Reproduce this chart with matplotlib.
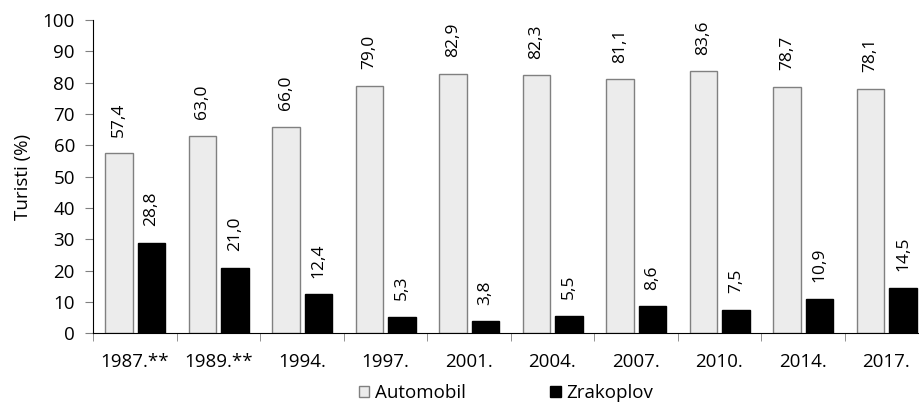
import matplotlib
matplotlib.use("Agg")
import matplotlib.pyplot as plt
import numpy as np

categories = ["1987.**", "1989.**", "1994.", "1997.", "2001.", "2004.", "2007.", "2010.", "2014.", "2017."]
automobil = [57.4, 63.0, 66.0, 79.0, 82.9, 82.3, 81.1, 83.6, 78.7, 78.1]
zrakoplov = [28.8, 21.0, 12.4, 5.3, 3.8, 5.5, 8.6, 7.5, 10.9, 14.5]
series_names = ["Automobil", "Zrakoplov"]
ylabel = "Turisti (%)"

plt.rcParams['font.family'] = ['Open Sans', 'DejaVu Sans']
plt.rcParams['font.size'] = 13.5

fig = plt.figure(figsize=(9.2, 4.05), dpi=100)
ax = fig.add_axes([93/920, 71.7/405, 835/920, 313.3/405])

x = np.arange(len(categories))
w = 0.33
b1 = ax.bar(x - 0.19, automobil, w, color="#ececec", edgecolor="#808080", linewidth=1.0, label=series_names[0])
b2 = ax.bar(x + 0.20, zrakoplov, w, color="black", edgecolor="black", linewidth=1.0, label=series_names[1])

def fmt(v):
    return f"{v:.1f}".replace(".", ",")

for bars, vals in ((b1, automobil), (b2, zrakoplov)):
    for r, v in zip(bars, vals):
        ax.annotate(fmt(v), (r.get_x() + r.get_width() / 2, v), xytext=(0, 12),
                    textcoords="offset points", rotation=90, ha="center", va="bottom",
                    fontsize=12.5)

ax.set_xlim(-0.5, len(categories) - 0.5)
ax.set_ylim(0, 100)
ax.set_yticks(range(0, 101, 10))
ax.set_xticks(x)
ax.set_xticklabels(categories, fontsize=13.5)
ax.set_xticks(np.arange(-0.5, len(categories), 1), minor=True)
ax.tick_params(axis="x", which="major", length=0, pad=14)
ax.tick_params(axis="x", which="minor", length=6, color="#808080", direction="out")
ax.tick_params(axis="y", length=6, color="#808080", direction="out", pad=7, labelsize=13.5)
ax.spines["top"].set_visible(False)
ax.spines["right"].set_visible(False)
ax.spines["left"].set_color("black")
ax.spines["bottom"].set_color("black")
ax.set_ylabel(ylabel, labelpad=8, fontsize=13.5)

fig.legend(handles=[b1, b2], labels=series_names, loc="center", bbox_to_anchor=(506/920, 12/405),
           ncol=2, frameon=False, handlelength=0.55, handleheight=0.55, handletextpad=0.3,
           columnspacing=4.5, fontsize=13.5, borderpad=0)

fig.savefig("out.png", dpi=100)
